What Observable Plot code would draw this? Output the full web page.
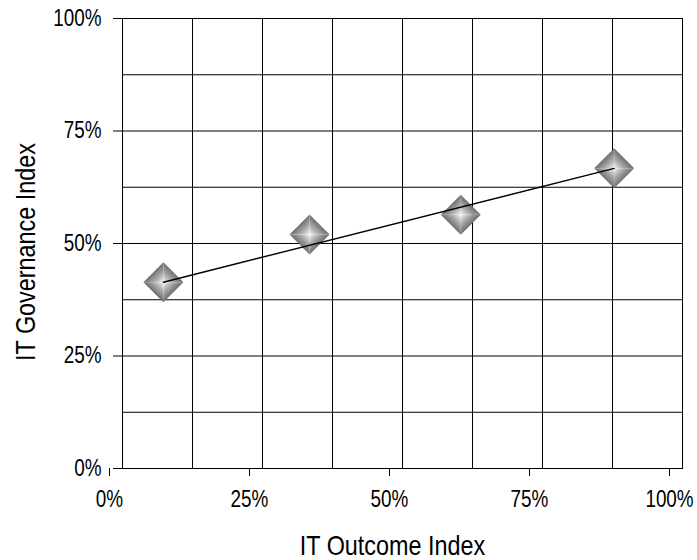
<!DOCTYPE html>
<html>
<head>
<meta charset="utf-8">
<script src="https://cdn.jsdelivr.net/npm/d3@7"></script>
<script src="https://cdn.jsdelivr.net/npm/@observablehq/plot@0.6"></script>
<style>
  html, body { margin: 0; padding: 0; background: #fff; }
  svg { display: block; }
</style>
</head>
<body>
<div id="chart"></div>
<script>
// IT outcome vs. IT governance, one point per group
const outcomeIdx    = [7.3, 33.4, 60.4, 87.8];
const governanceIdx = [41.4, 52.0, 56.4, 66.7];
const tickValues = [0, 25, 50, 75, 100];
const tickLabels = ["0%", "25%", "50%", "75%", "100%"];
const gridValues = [0, 12.5, 25, 37.5, 50, 62.5, 75, 87.5, 100];
const xTitle = "IT Outcome Index";
const yTitle = "IT Governance Index";

const points = outcomeIdx.map((x, i) => ({x, y: governanceIdx[i]}));
// trend line from the first to the last point
const trend = [points[0], points[points.length - 1]];

const FONT = "'Liberation Sans', Arial, sans-serif";
const NARROW = 0.82; // horizontal squeeze for a narrow face

// one triangular face of a pyramid-shaded diamond; q picks which face
function face(q) {
  return {
    draw(ctx, size) {
      const r = Math.sqrt(size);
      const pts = [[0, -r], [r, 0], [0, r], [-r, 0]];
      const a = pts[q], b = pts[(q + 1) % 4];
      ctx.moveTo(0, 0);
      ctx.lineTo(a[0], a[1]);
      ctx.lineTo(b[0], b[1]);
      ctx.closePath();
    }
  };
}

// gradients running from the diamond centre out to each face's outer edge
function defs() {
  const d = d3.create("svg:defs");
  const dirs = [
    ["faceTR", 0, 1, 0.5, 0.5],
    ["faceBR", 0, 0, 0.5, 0.5],
    ["faceBL", 1, 0, 0.5, 0.5],
    ["faceTL", 1, 1, 0.5, 0.5]
  ];
  for (const [id, x1, y1, x2, y2] of dirs) {
    const g = d.append("linearGradient").attr("id", id)
      .attr("x1", x1).attr("y1", y1).attr("x2", x2).attr("y2", y2);
    g.append("stop").attr("offset", 0).attr("stop-color", "#f4f4f4");
    g.append("stop").attr("offset", 0.45).attr("stop-color", "#b0b0b0");
    g.append("stop").attr("offset", 1).attr("stop-color", "#6f6f6f");
  }
  return d.node();
}

const faceIds = ["faceTR", "faceBR", "faceBL", "faceTL"];
const R = 20; // half-diagonal of each diamond, px

const chart = Plot.plot({
  width: 697,
  height: 560,
  marginTop: 18,
  marginBottom: 92,
  marginLeft: 122,
  marginRight: 15,
  style: {fontFamily: FONT, background: "#fff", overflow: "visible"},
  x: {domain: [0, 100]},
  y: {domain: [0, 100]},
  marks: [
    defs,
    Plot.gridX(gridValues, {stroke: "#000", strokeOpacity: 1, strokeWidth: 1}),
    Plot.gridY(gridValues, {stroke: "#000", strokeOpacity: 1, strokeWidth: 1}),
    Plot.frame({stroke: "#000", strokeWidth: 1}),
    Plot.axisX(tickValues, {
      tickSize: 8, tickPadding: 14, dx: -13,
      tickFormat: (d, i) => tickLabels[i],
      fontSize: 23, fill: "#000", label: null, stroke: "#000"
    }),
    Plot.axisY(tickValues, {
      tickSize: 9, tickPadding: 12,
      tickFormat: (d, i) => tickLabels[i],
      fontSize: 23, fill: "#000", label: null, stroke: "#000"
    }),
    ...faceIds.map((id, q) => Plot.dot(points, {
      x: "x", y: "y", symbol: face(q), r: R / Math.sqrt(Math.PI),
      fill: `url(#${id})`, stroke: "none"
    })),
    Plot.line(trend, {x: "x", y: "y", stroke: "#000", strokeWidth: 1.4}),
    Plot.text([xTitle], {
      frameAnchor: "bottom", textAnchor: "middle", lineAnchor: "middle",
      dx: -10, dy: 77, fontSize: 28.5, fill: "#000"
    }),
    Plot.text([yTitle], {
      frameAnchor: "left", textAnchor: "middle", lineAnchor: "middle",
      rotate: -90, dx: -97, dy: 8.5, fontSize: 28.5, fill: "#000"
    })
  ]
});

document.getElementById("chart").appendChild(chart);

// squeeze every label to a narrow width, keeping its anchor in place
chart.querySelectorAll("text").forEach((t) => {
  const len = t.getComputedTextLength();
  if (len > 0) {
    t.setAttribute("textLength", (len * NARROW).toFixed(1));
    t.setAttribute("lengthAdjust", "spacingAndGlyphs");
  }
});
</script>
</body>
</html>
